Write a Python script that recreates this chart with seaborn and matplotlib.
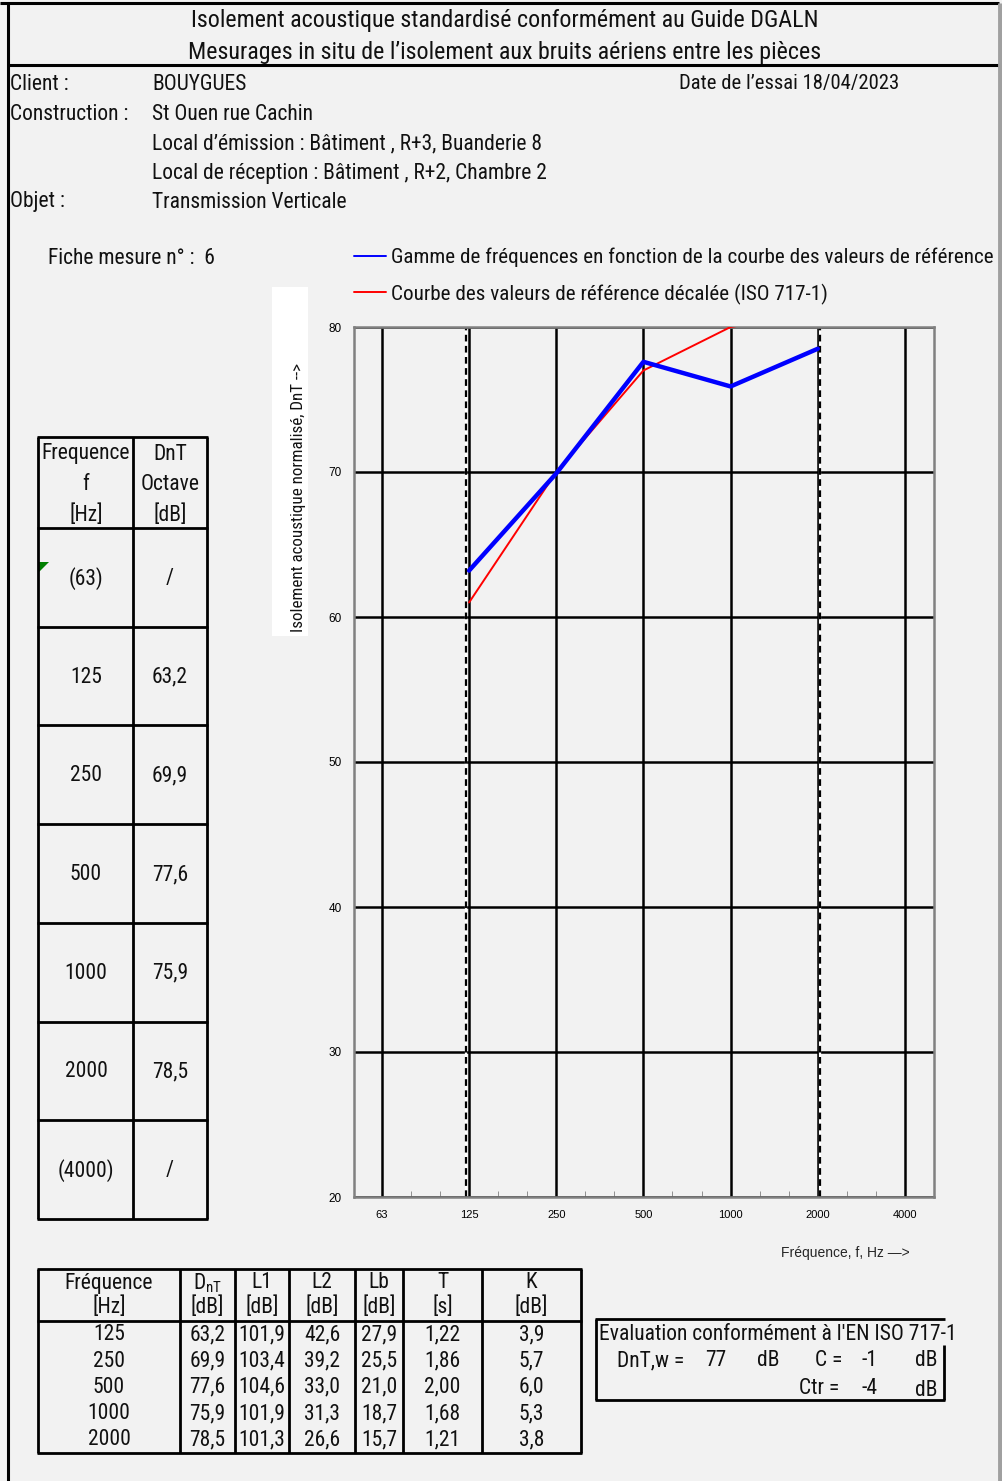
import numpy as np
import pandas as pd
import seaborn as sns
import matplotlib
matplotlib.use("Agg")
from matplotlib import pyplot as plt
from matplotlib import font_manager as fm
from matplotlib.patches import Polygon


# --- data ---
AXIS_FREQS = ["63", "125", "250", "500", "1000", "2000", "4000"]
BANDS = ["125", "250", "500", "1000", "2000"]
DNT = [63.2, 69.9, 77.6, 75.9, 78.5]
REF_SHIFTED = [61, 70, 77, 80, 81]

L1 = ["101,9", "103,4", "104,6", "101,9", "101,3"]
L2 = ["42,6", "39,2", "33,0", "31,3", "26,6"]
LB = ["27,9", "25,5", "21,0", "18,7", "15,7"]
T_REV = ["1,22", "1,86", "2,00", "1,68", "1,21"]
K_CORR = ["3,9", "5,7", "6,0", "5,3", "3,8"]

OCT_FREQS = ["(63)", "125", "250", "500", "1000", "2000", "(4000)"]
OCT_DNT = ["/", "63,2", "69,9", "77,6", "75,9", "78,5", "/"]

DNTW, C_TERM, CTR_TERM = 77, -1, -4

LEGEND_LABELS = ["Gamme de fréquences en fonction de la courbe des valeurs de référence",
                 "Courbe des valeurs de référence décalée (ISO 717-1)"]

BG = "#f2f2f2"
W, H = 1002, 1481


def pick_narrow_font():
    entries = fm.fontManager.ttflist
    for name in ["Roboto Condensed", "Liberation Sans Narrow", "Open Sans Condensed",
                 "Noto Sans Condensed", "DejaVu Sans Condensed", "Arial Narrow"]:
        if any(e.name == name for e in entries):
            return name, "normal"
    for name in ["Roboto", "Noto Sans", "Open Sans", "Inter", "DejaVu Sans"]:
        for e in entries:
            if e.name == name and e.stretch in ("condensed", "semi-condensed", "extra-condensed"):
                return name, e.stretch
    return "DejaVu Sans", "normal"


def fmt(v):
    return f"{v:.1f}".replace(".", ",")


def main():
    sns.set_style("white")
    family, stretch = pick_narrow_font()
    plt.rcParams["font.family"] = [family, "DejaVu Sans"]
    plt.rcParams["font.stretch"] = stretch
    plt.rcParams["mathtext.fontset"] = "custom"
    plt.rcParams["mathtext.rm"] = family
    plt.rcParams["mathtext.it"] = family

    fig = plt.figure(figsize=(W / 100, H / 100), dpi=100, facecolor=BG)

    # overlay in pixel coordinates for the report layout
    bg = fig.add_axes([0, 0, 1, 1], zorder=0)
    bg.set_xlim(0, W)
    bg.set_ylim(H, 0)
    bg.axis("off")

    # scale the text so a known line has the width it has in the report
    renderer = fig.canvas.get_renderer()
    probe = bg.text(0, 0, "Local d\u2019émission : Bâtiment , R+3, Buanderie 8", fontsize=14.5)
    scale = min(1.15, 390 / probe.get_window_extent(renderer).width)
    probe.remove()
    BODY = 14.5 * scale

    def hline(y, x0, x1, lw=2, color="black"):
        bg.plot([x0, x1], [y, y], color=color, lw=lw, solid_capstyle="butt")

    def vline(x, y0, y1, lw=2, color="black"):
        bg.plot([x, x], [y0, y1], color=color, lw=lw, solid_capstyle="butt")

    def txt(x, y, s, size=None, ha="left", **kw):
        bg.text(x, y, s, fontsize=size or BODY, ha=ha, va="center", color="#111111", **kw)

    # frame
    hline(3, 0, 999, lw=2.2)
    hline(65, 8, 999, lw=2.2)
    vline(8, 3, H, lw=2.2)
    vline(1000, 3, H, lw=3.5, color="#a0a0a0")

    # header
    txt(505, 21, "Isolement acoustique standardisé conformément au Guide DGALN", size=16.2 * scale, ha="center")
    txt(505, 52, "Mesurages in situ de l\u2019isolement aux bruits aériens entre les pièces", size=16.2 * scale, ha="center")
    txt(10, 84, "Client :")
    txt(152, 84, "BOUYGUES")
    txt(679, 84, "Date de l\u2019essai 18/04/2023", size=BODY * 0.96)
    txt(10, 114, "Construction :")
    txt(152, 114, "St Ouen rue Cachin")
    txt(152, 144, "Local d\u2019émission : Bâtiment , R+3, Buanderie 8")
    txt(152, 174, "Local de réception : Bâtiment , R+2, Chambre 2")
    txt(10, 202, "Objet :")
    txt(152, 202, "Transmission Verticale")
    txt(48, 258, "Fiche mesure n° :  6")

    # left octave table
    lx = [38, 133, 207]
    ly = [437, 528] + [528 + 98.7 * (i + 1) for i in range(len(OCT_FREQS))]
    for x in lx:
        vline(x, ly[0], ly[-1])
    for y in ly:
        hline(y, lx[0] - 1, lx[-1] + 1)
    for i, s in enumerate(["Frequence", "f", "[Hz]"]):
        txt(86, 454 + 30.5 * i, s, ha="center")
    for i, s in enumerate(["DnT", "Octave", "[dB]"]):
        txt(170, 454 + 30.5 * i, s, ha="center")
    for i, (f, d) in enumerate(zip(OCT_FREQS, OCT_DNT)):
        yc = (ly[i + 1] + ly[i + 2]) / 2 + 1
        txt(86, yc, f, ha="center")
        txt(170, yc, d, ha="center")
    bg.add_patch(Polygon([[39, 562], [49, 562], [39, 572]], closed=True, color="green", lw=0))

    # bottom detail table
    bx = [38, 180, 235, 289, 355, 403, 482, 581]
    by = [1269, 1321, 1453]
    for x in bx:
        vline(x, by[0], by[-1])
    for y in by:
        hline(y, bx[0] - 1, bx[-1] + 1)
    centers = [(bx[i] + bx[i + 1]) / 2 for i in range(len(bx) - 1)]
    heads = [("Fréquence", "[Hz]"), (r"$\mathrm{D_{nT}}$", "[dB]"), ("L1", "[dB]"), ("L2", "[dB]"),
             ("Lb", "[dB]"), ("T", "[s]"), ("K", "[dB]")]
    for c, (h1, h2) in zip(centers, heads):
        txt(c, 1283, h1, ha="center")
        txt(c, 1307, h2, ha="center")
    cols = [BANDS, [fmt(v) for v in DNT], L1, L2, LB, T_REV, K_CORR]
    for c, col in zip(centers, cols):
        for j, s in enumerate(col):
            txt(c, 1335 + 26.2 * j, s, ha="center")

    # evaluation box
    hline(1319, 595, 945)
    hline(1400, 595, 945)
    vline(596, 1319, 1400)
    vline(944, 1345, 1400)
    txt(599, 1335, "Evaluation conformément à l'EN ISO 717-1")
    txt(617, 1361, "DnT,w =")
    txt(705, 1361, str(DNTW))
    txt(757, 1361, "dB")
    txt(815, 1361, "C =")
    txt(862, 1361, str(C_TERM))
    txt(915, 1361, "dB")
    txt(799, 1388, "Ctr =")
    txt(862, 1388, str(CTR_TERM))
    txt(915, 1390, "dB")

    # y label box
    bg.add_patch(plt.Rectangle((272, 287), 36, 349, color="white", lw=0))
    txt(299, 498, "Isolement acoustique normalisé, DnT -->", size=11.5 * scale, ha="center", rotation=90)

    # --- chart ---
    ax = fig.add_axes([354 / W, 1 - 1197 / H, 580 / W, 870 / H], zorder=1)
    ax.set_facecolor(BG)
    pos = [AXIS_FREQS.index(b) for b in BANDS]
    df = pd.DataFrame({"pos": pos, "dnt": DNT, "ref": REF_SHIFTED})

    ax.set_xlim(-0.32, 6.33)
    ax.set_ylim(20, 80)
    ax.set_xticks(range(len(AXIS_FREQS)))
    ax.set_xticklabels(AXIS_FREQS)
    ax.set_xticks([i + k / 3 for i in range(len(AXIS_FREQS) - 1) for k in (1, 2)] + [6 + 1 / 3], minor=True)
    ax.set_yticks(range(20, 81, 10))
    ax.grid(True, which="major", color="black", lw=1.8)
    ax.set_axisbelow(True)

    for p, side in ((AXIS_FREQS.index("125"), -0.03), (AXIS_FREQS.index("2000"), 0.03)):
        ax.axvline(p + side, color="white", lw=1.6, zorder=1.5)
        ax.axvline(p + side, color="black", lw=1.6, ls=(0, (3, 2)), zorder=1.6)

    sns.lineplot(data=df, x="pos", y="ref", color="red", lw=1.4, ax=ax, label=LEGEND_LABELS[1], zorder=3)
    sns.lineplot(data=df, x="pos", y="dnt", color="blue", lw=3.2, ax=ax, label=LEGEND_LABELS[0], zorder=4)

    for sp in ax.spines.values():
        sp.set_color("#808080")
        sp.set_linewidth(1.8)
    ax.tick_params(axis="x", which="major", labelsize=8, colors="black", length=0, pad=9)
    ax.tick_params(axis="y", which="major", labelsize=8.5, colors="black", length=4,
                   color="#808080", direction="out", pad=5)
    ax.tick_params(axis="x", which="minor", length=4, color="#808080", direction="in", bottom=True)
    for lab in ax.get_xticklabels() + ax.get_yticklabels():
        lab.set_fontfamily("Liberation Sans")
        lab.set_fontstretch("normal")
    ax.set_xlabel("")
    ax.set_ylabel("")

    handles, labels = ax.get_legend_handles_labels()
    leg = ax.legend(handles[::-1], labels[::-1], loc="upper left", bbox_to_anchor=(346 / W, 1 - 239 / H),
                    bbox_transform=fig.transFigure, frameon=False, fontsize=BODY * 0.985,
                    handlelength=1.6 / scale, handletextpad=0.22, labelspacing=0.78, borderaxespad=0)
    for line in leg.get_lines():
        line.set_linewidth(1.4)
    for t in leg.get_texts():
        t.set_color("#111111")

    bg.text(845, 1253, "Fréquence, f, Hz \u2014>", fontsize=10, ha="center", va="center",
            family="Liberation Sans", stretch="normal")

    fig.savefig("out.png", dpi=100, facecolor=BG)


if __name__ == "__main__":
    main()
